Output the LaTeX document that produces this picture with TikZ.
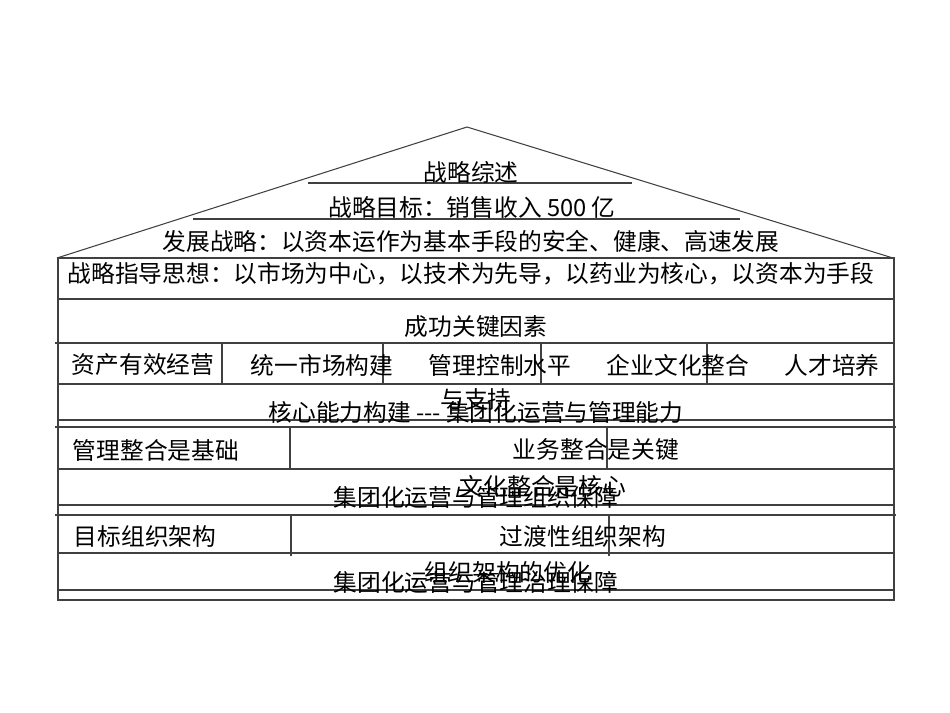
\documentclass[tikz,border=0pt]{standalone}
\usepackage{fontspec}
\newfontfamily\cjk{Noto Sans CJK SC}
\usetikzlibrary{positioning}
\tikzset{%
    label/.style={inner sep=0pt, font=\cjk\fontsize{13.5}{15}\selectfont},
    rule/.style={draw=black!75, line width=0.6pt}
}
\begin{document}
\begin{tikzpicture}[x=0.02cm,y=-0.02cm]
    \useasboundingbox (0,0) rectangle (950,713);
    % roof
    \draw[rule] (57,258)--(467,127)--(893,258);
    \draw[rule] (308,183)--(632,183);
    \draw[rule] (193,219)--(740,219);
    % wall
    \draw[rule] (58,258) rectangle (894,600);
    \foreach \y in {299,343,384,420,469,505,553,590}
        \draw[rule] (58,\y)--(894,\y);
    \foreach \y in {427,515}
        \draw[rule] (55,\y)--(896,\y);
    \draw[rule] (55,343)--(58,343);
    % dividers
    \foreach \x in {222,383,541,707}
        \draw[rule] (\x,343)--(\x,384);
    \foreach \x/\y in {290/427,607/427,291/515,609/515}
        \draw[rule] (\x,\y)--(\x,\y+41);
    % texts
    \node[label] (sum) at (471,172) {战略综述};
    \node[label] (goal) at (472,207) {战略目标：销售收入 500 亿};
    \node[label] (dev) at (471,241) {发展战略：以资本运作为基本手段的安全、健康、高速发展};
    \node[label] (idea) at (471,274) {战略指导思想：以市场为中心，以技术为先导，以药业为核心，以资本为手段};
    \node[label] (key) at (476,327) {成功关键因素};
    \node[label] (k1) at (143,365) {资产有效经营};
    \node[label] (k2) at (322,365) {统一市场构建};
    \node[label] (k3) at (500,365) {管理控制水平};
    \node[label] (k4) at (678,365) {企业文化整合};
    \node[label] (k5) at (832,365) {人才培养};
    \node[label] (sup) at (476,399) {与支持};
    \node[label] (core) at (476,412) {核心能力构建 --- 集团化运营与管理能力};
    \node[label] (m1) at (156,450) {管理整合是基础};
    \node[label] (m2) at (596,450) {业务整合是关键};
    \node[label] (m3) at (543,486) {文化整合是核心};
    \node[label] (org) at (476,497) {集团化运营与管理组织保障};
    \node[label] (o1) at (145,536) {目标组织架构};
    \node[label] (o2) at (583,536) {过渡性组织架构};
    \node[label] (o3) at (508,572) {组织架构的优化};
    \node[label] (gov) at (476,582) {集团化运营与管理治理保障};
\end{tikzpicture}
\end{document}
